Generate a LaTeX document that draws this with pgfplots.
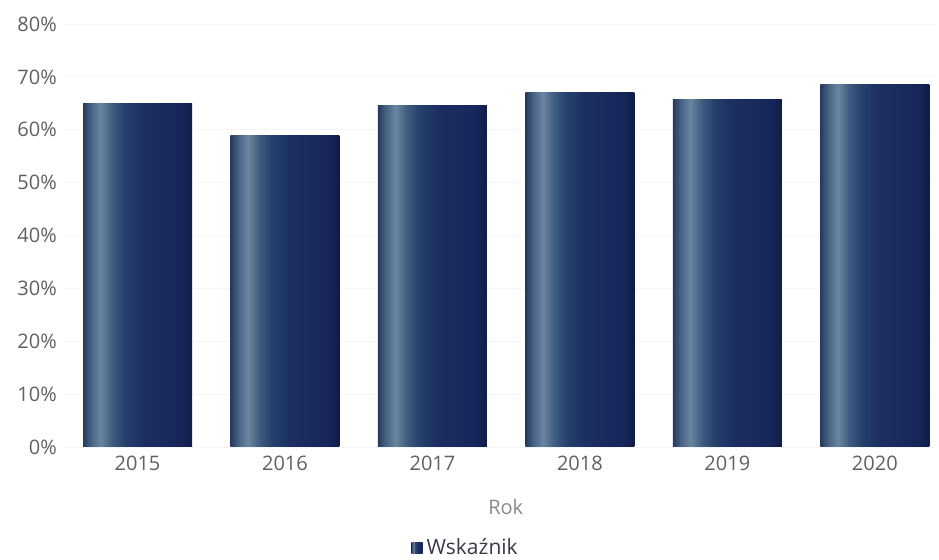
\documentclass[border=0pt]{standalone}
\usepackage{fontspec}
\setmainfont{Open Sans}
\usepackage{pgfplots}
\pgfplotsset{compat=1.18}
\definecolor{c0}{HTML}{253A5E}
\definecolor{c1}{HTML}{4A6688}
\definecolor{c2}{HTML}{6C86A0}
\definecolor{c3}{HTML}{3F5E80}
\definecolor{c4}{HTML}{24416C}
\definecolor{c5}{HTML}{1C2E60}
\definecolor{c6}{HTML}{17265A}
\definecolor{c7}{HTML}{101C45}
\pgfdeclarehorizontalshading{barshade}{100bp}{color(0bp)=(c0); color(25bp)=(c0); color(29bp)=(c1); color(33bp)=(c2); color(38bp)=(c3); color(44bp)=(c4); color(52.5bp)=(c5); color(70bp)=(c6); color(75bp)=(c7); color(100bp)=(c7)}
\definecolor{ticktext}{HTML}{606060}
\definecolor{labeltext}{HTML}{8A8A8A}
\definecolor{legtext}{HTML}{3A3A4A}
\begin{document}
\begin{tikzpicture}
\useasboundingbox (-31.9pt,-56.5pt) rectangle (437.6pt,223.5pt);
\begin{axis}[
  scale only axis,
  width=435pt, height=211.5pt,
  xmin=-0.5, xmax=5.4,
  ymin=0, ymax=80,
  no markers,
  axis line style={draw=none},
  tick style={draw=none},
  ytick={0,10,20,30,40,50,60,70,80},
  yticklabels={0\%,10\%,20\%,30\%,40\%,50\%,60\%,70\%,80\%},
  xtick={0,1,2,3,4,5},
  xticklabels={2015,2016,2017,2018,2019,2020},
  ymajorgrids,
  grid style={draw=black!4, line width=0.4pt},
  ticklabel style={font=\fontsize{10}{12}\selectfont, text=ticktext},
  xticklabel style={yshift=-1pt},
  xlabel={Rok},
  xlabel style={font=\fontsize{10}{12}\selectfont, text=labeltext, at={(axis description cs:0.508,-0.142)}, anchor=center},
  legend style={draw=none, fill=none, at={(axis description cs:0.463,-0.239)}, anchor=center, font=\fontsize{10.5}{12}\selectfont, text=legtext, inner sep=0pt},
  legend image code/.code={\shade[shading=barshade] (0pt,-2.9pt) rectangle (5.6pt,2.9pt);},
  legend cell align=left,
  every axis plot/.append style={ybar, bar width=54.5pt, bar shift=0pt, draw=none, mark=none, shade, shading=barshade},
]
\addplot coordinates {(0,65.0)};
\addlegendentry{Wskaźnik}
\addplot[forget plot] coordinates {(1,59.0)};
\addplot[forget plot] coordinates {(2,64.6)};
\addplot[forget plot] coordinates {(3,67.1)};
\addplot[forget plot] coordinates {(4,65.8)};
\addplot[forget plot] coordinates {(5,68.6)};
\end{axis}
\end{tikzpicture}
\end{document}
